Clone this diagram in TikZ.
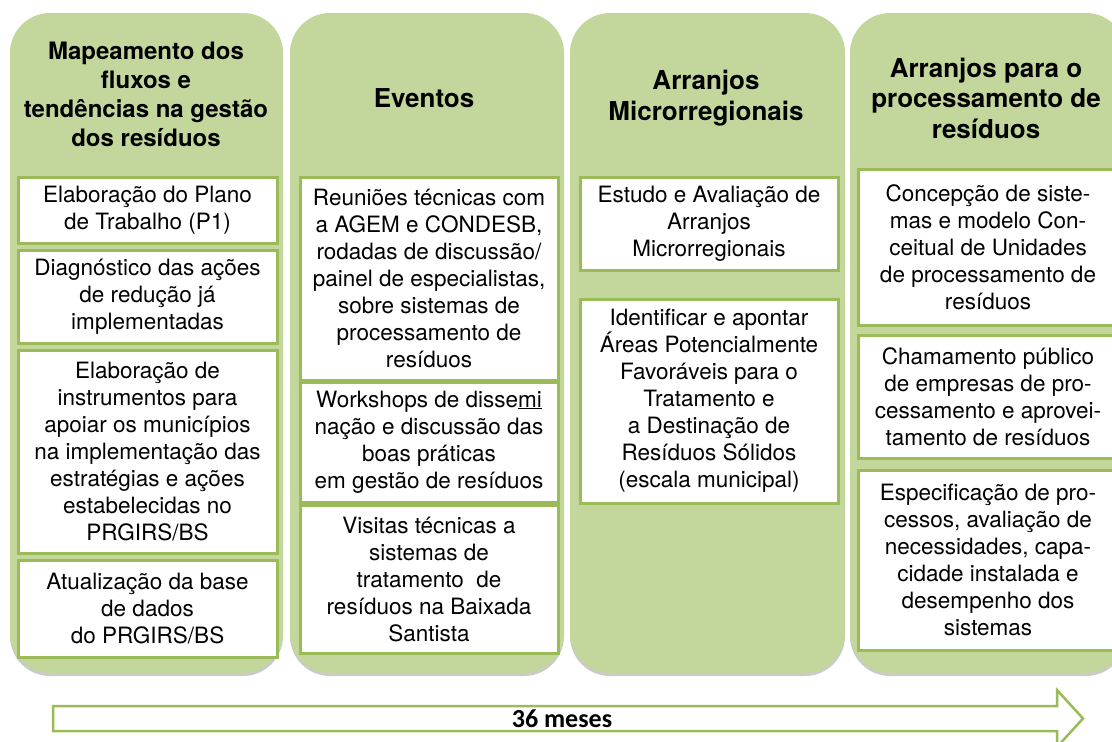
\documentclass[tikz,border=0pt]{standalone}
\usepackage{fontspec}
\setmainfont{TeX Gyre Heros}
\newfontfamily\carlitofont{Carlito}
\usetikzlibrary{shadows}
\definecolor{panelgreen}{HTML}{C3D69B}
\definecolor{linegreen}{HTML}{9BBB59}
\tikzset{
  panel/.style={fill=panelgreen, draw=none, rounded corners=40pt,
    drop shadow={shadow xshift=0pt, shadow yshift=-3pt, opacity=0.35, fill=black!60}},
  itembox/.style={draw=linegreen, line width=3pt, fill=white, align=center,
    inner sep=0pt, font=\fontsize{22.5}{27}\selectfont},
  header/.style={align=center, font=\fontsize{26}{30.5}\selectfont\bfseries},
  timearrow/.style={draw=linegreen, line width=2.5pt, fill=white, line join=miter}
}
\begin{document}
\begin{tikzpicture}[x=1pt,y=-1pt]
\useasboundingbox (0,0) rectangle (1112,742);
\clip (0,0) rectangle (1112,742);
% panels
\path[panel] (10,13) rectangle (283,673);
\path[panel] (290,13) rectangle (564,673);
\path[panel] (570,13) rectangle (845,673);
\path[panel] (850,13) rectangle (1126,673);
% headers
\node[header, font=\fontsize{24}{29}\selectfont\bfseries] (h1) at (146,94) {Mapeamento dos\\fluxos e\\tendências na gestão\\dos resíduos};
\node[header] (h2) at (424,98) {Eventos};
\node[header] (h3) at (706,98) {Arranjos\\Microrregionais};
\node[header] (h4) at (986,98) {Arranjos para o\\processamento de\\resíduos};
% column 1
\node[itembox, minimum width=259pt, minimum height=66pt] (a1) at (147.5,210) {Elaboração do Plano\\de Trabalho (P1)};
\node[itembox, minimum width=259pt, minimum height=93pt] (a2) at (147.5,296.5) {Diagnóstico das ações\\de redução já\\implementadas};
\node[itembox, minimum width=259pt, minimum height=203pt] (a3) at (147.5,451.5) {Elaboração de\\instrumentos para\\apoiar os municípios\\na implementação das\\estratégias e ações\\estabelecidas no\\PRGIRS/BS};
\node[itembox, minimum width=259pt, minimum height=97pt] (a4) at (147.5,608.5) {Atualização da base\\de dados\\do PRGIRS/BS};
% column 2
\node[itembox, minimum width=258pt, minimum height=203pt] (b1) at (429,278.5) {Reuniões técnicas com\\a AGEM e CONDESB,\\rodadas de discussão/\\painel de especialistas,\\sobre sistemas de\\processamento de\\resíduos};
\node[itembox, minimum width=258pt, minimum height=120pt] (b2) at (429,442) {Workshops de disse\underline{mi}\\nação e discussão das\\boas práticas\\em gestão de resíduos};
\node[itembox, minimum width=258pt, minimum height=148pt] (b3) at (429,579) {Visitas técnicas a\\sistemas de\\tratamento\ \ de\\resíduos na Baixada\\Santista};
% column 3
\node[itembox, minimum width=258pt, minimum height=93pt] (c1) at (709,223.5) {Estudo e Avaliação de\\Arranjos\\Microrregionais};
\node[itembox, minimum width=258pt, minimum height=204pt] (c2) at (709,401) {Identificar e apontar\\Áreas Potencialmente\\Favoráveis para o\\Tratamento e\\a Destinação de\\Resíduos Sólidos\\(escala municipal)};
% column 4
\node[itembox, minimum width=260pt, minimum height=156pt] (d1) at (988,247) {Concepção de siste-\\mas e modelo Con-\\ceitual de Unidades\\de processamento de\\resíduos};
\node[itembox, minimum width=260pt, minimum height=123pt] (d2) at (988,396.5) {Chamamento público\\de empresas de pro-\\cessamento e aprovei-\\tamento de resíduos};
\node[itembox, minimum width=260pt, minimum height=180pt] (d3) at (988,560) {Especificação de pro-\\cessos, avaliação de\\necessidades, capa-\\cidade instalada e\\desempenho dos\\sistemas};
% time arrow
\path[timearrow] (53,706) -- (1057,706) -- (1057,690) -- (1083,718.5) -- (1057,747) -- (1057,731) -- (53,731) -- cycle;
\node[font=\fontsize{26}{30}\selectfont\carlitofont\bfseries] (t) at (562,719) {36 meses};
\end{tikzpicture}
\end{document}
